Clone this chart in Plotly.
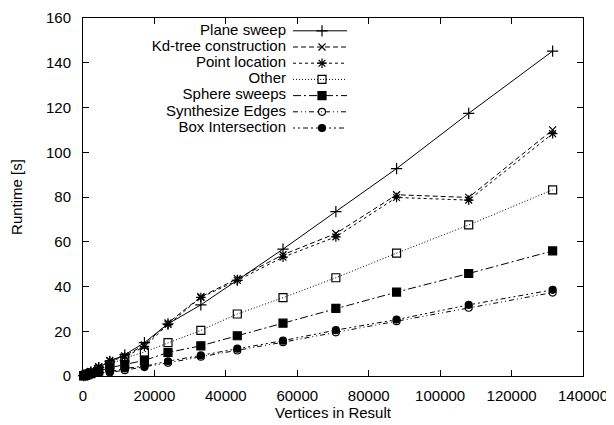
import plotly.graph_objects as go

vertices = [200, 700, 1300, 2200, 4400, 7500, 11700, 17200, 23800, 33000, 43200, 56000, 70800, 87800, 108000, 131500]

series_names = ["Plane sweep", "Kd-tree construction", "Point location", "Other",
                "Sphere sweeps", "Synthesize Edges", "Box Intersection"]

plane_sweep = [0.2, 0.5, 1.0, 1.8, 3.8, 6.6, 9.5, 14.9, 23.3, 31.8, 42.8, 56.7, 73.5, 92.7, 117.4, 145.2]
kd_tree = [0.2, 0.5, 1.0, 2.0, 4.2, 7.0, 9.0, 13.9, 23.7, 35.4, 43.5, 54.2, 63.7, 81.0, 79.8, 110.0]
point_location = [0.2, 0.5, 1.0, 1.9, 4.0, 6.7, 8.5, 13.2, 23.0, 35.1, 42.7, 53.1, 62.2, 79.8, 78.6, 108.3]
other = [0.2, 0.4, 0.8, 1.4, 3.0, 5.1, 8.0, 10.7, 14.9, 20.4, 27.7, 35.0, 43.9, 54.9, 67.5, 83.2]
sphere_sweeps = [0.1, 0.3, 0.6, 1.1, 2.2, 3.7, 5.1, 7.0, 10.5, 13.5, 18.0, 23.6, 30.2, 37.5, 45.8, 55.9]
synthesize_edges = [0.1, 0.2, 0.4, 0.7, 1.4, 1.6, 2.6, 4.0, 5.9, 8.6, 11.4, 15.1, 19.5, 24.5, 30.5, 37.3]
box_intersection = [0.1, 0.2, 0.4, 0.8, 1.5, 1.9, 3.4, 4.4, 6.6, 9.2, 12.2, 15.8, 20.5, 25.2, 31.8, 38.5]

x_ticks = [0, 20000, 40000, 60000, 80000, 100000, 120000, 140000]
y_ticks = [0, 20, 40, 60, 80, 100, 120, 140, 160]

values = [plane_sweep, kd_tree, point_location, other, sphere_sweeps, synthesize_edges, box_intersection]
symbols = ["cross-thin-open", "x-thin-open", "asterisk-open", "square-open", "square", "circle-open", "circle"]
sizes = [8, 7, 8, 8, 8, 7, 7]
dashes = ["solid", "5px,3px", "3px,3px", "1px,2px", "8px,3px,2px,3px", "5px,3px,1px,3px,1px,3px", "2px,3px,2px,3px,5px,3px"]

FONT = "Liberation Sans, Arial, Helvetica, sans-serif"
FS = 15
LFS = 15
fig = go.Figure()

for name, ys, sym, sz, d in zip(series_names, values, symbols, sizes, dashes):
    fig.add_trace(go.Scatter(
        x=vertices, y=ys, mode="lines+markers", name=name, showlegend=False,
        line=dict(color="black", width=1, dash=d),
        marker=dict(symbol=sym, size=sz, color="black", line=dict(color="black", width=1.2)),
        cliponaxis=False,
    ))

# custom gnuplot-style legend (text right-aligned, sample on the right), pixel coords of the plot area
row_y = [12.8, 29.0, 45.2, 61.4, 77.6, 93.8, 110.0]
for i, (name, sym, sz, d) in enumerate(zip(series_names, symbols, sizes, dashes)):
    fig.add_trace(go.Scatter(
        x=[210, 264], y=[row_y[i], row_y[i]], mode="lines", xaxis="x2", yaxis="y2",
        line=dict(color="black", width=1, dash=d), showlegend=False, hoverinfo="skip"))
    fig.add_trace(go.Scatter(
        x=[239], y=[row_y[i]], mode="markers", xaxis="x2", yaxis="y2",
        marker=dict(symbol=sym, size=sz, color="black", line=dict(color="black", width=1.2)),
        showlegend=False, hoverinfo="skip"))
fig.add_trace(go.Scatter(
    x=[203] * len(series_names), y=row_y, mode="text", text=series_names,
    textposition="middle left", xaxis="x2", yaxis="y2",
    textfont=dict(family=FONT, size=LFS, color="black"), showlegend=False, hoverinfo="skip"))

axis_common = dict(showline=True, linecolor="black", linewidth=1, mirror="ticks", ticks="inside",
                   ticklen=6, tickcolor="black", showgrid=False, zeroline=False, automargin=False,
                   ticklabeloverflow="allow",
                   tickfont=dict(family=FONT, size=FS, color="black"))

# the page body offsets the figure by 8px; margins compensate so the plot lands where the reference has it
fig.update_layout(
    width=614, height=425,
    margin=dict(l=75, r=39, t=10, b=57),
    paper_bgcolor="white", plot_bgcolor="white",
    font=dict(family=FONT, size=FS, color="black"),
    xaxis=dict(range=[0, 140000], tickvals=x_ticks, ticktext=[str(v) for v in x_ticks],
               ticklabelstandoff=6,
               title=dict(text="Vertices in Result", font=dict(family=FONT, size=FS), standoff=4),
               **axis_common),
    yaxis=dict(range=[0, 160], tickvals=y_ticks, ticktext=[str(v) for v in y_ticks],
               ticklabelstandoff=8,
               title=dict(text="Runtime [s]", font=dict(family=FONT, size=FS), standoff=20),
               **axis_common),
    xaxis2=dict(overlaying="x", range=[0, 500], visible=False, anchor="y2", automargin=False),
    yaxis2=dict(overlaying="y", range=[358, 0], visible=False, anchor="x2", automargin=False),
)

fig.write_html("out.html")
